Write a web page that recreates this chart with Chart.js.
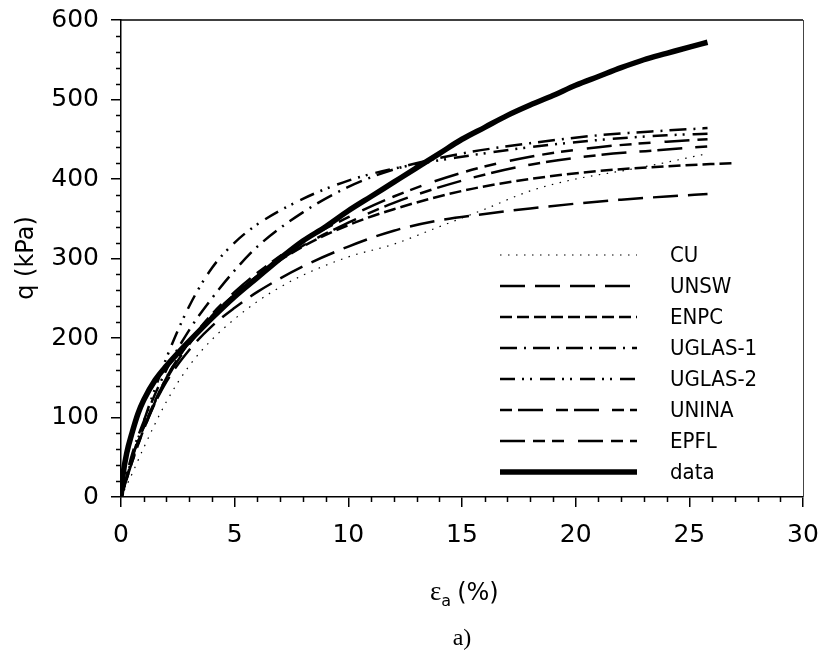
<!DOCTYPE html>
<html>
<head>
<meta charset="utf-8">
<script src="https://cdn.jsdelivr.net/npm/chart.js@4.4.1/dist/chart.umd.min.js"></script>
<style>
html, body { margin: 0; padding: 0; background: #fff; }
</style>
</head>
<body>
<canvas id="grafico" width="821" height="660"></canvas>
<script>
// valores (deformação axial em %, q em kPa)
const cuStrain = [0, 0.5, 1, 2, 3, 4, 5, 6, 7, 8, 10, 12, 14, 16, 18, 20, 22, 24, 25.8];
const cuQ      = [0, 30, 62, 120, 165, 198, 224, 246, 264, 279, 302, 318, 340, 362, 385, 400, 410, 421, 432];

const unswStrain = [0, 0.5, 1, 2, 3, 4, 5, 6, 8, 10, 12, 14, 16, 18, 20, 22, 24, 25.8];
const unswQ      = [0, 50, 88, 145, 185, 215, 238, 258, 290, 315, 335, 348, 356, 363, 369, 374, 378, 381];

const enpcStrain = [0, 0.5, 1, 2, 3, 4, 5, 6, 8, 10, 12, 15, 18, 21, 24, 26.9];
const enpcQ      = [0, 48, 88, 150, 195, 228, 255, 278, 315, 342, 362, 385, 400, 410, 416, 420];

const uglas1Strain = [0, 0.5, 1, 2, 3, 4, 5, 6, 8, 10, 12, 15, 18, 21, 24, 25.8];
const uglas1Q      = [0, 55, 95, 160, 210, 250, 285, 315, 358, 390, 412, 432, 445, 455, 461, 464];

const uglas2Strain = [0, 0.5, 1, 2, 3, 4, 5, 6, 8, 10, 12, 15, 18, 21, 24, 25.8];
const uglas2Q      = [0, 50, 95, 175, 240, 288, 320, 343, 375, 398, 413, 428, 440, 449, 455, 457];

const uninaStrain = [0, 0.5, 1, 2, 3, 4, 5, 6, 8, 10, 12, 15, 18, 21, 24, 25.8];
const uninaQ      = [0, 45, 85, 148, 192, 226, 254, 278, 316, 345, 370, 398, 418, 430, 437, 441];

const epflStrain = [0, 0.5, 1, 2, 3, 4, 5, 6, 8, 10, 12, 15, 18, 21, 24, 25.8];
const epflQ      = [0, 45, 85, 150, 195, 230, 258, 282, 322, 352, 378, 408, 428, 440, 447, 450];

const dataStrain = [0, 0.1, 0.25, 0.5, 0.75, 1, 1.5, 2, 2.5, 3, 4, 5, 6, 7, 8, 9, 10, 11, 12, 13, 14, 15, 16, 17, 18, 19, 20, 21, 22, 23, 24, 25, 25.8];
const dataQ      = [0, 30, 55, 82, 105, 122, 147, 165, 181, 196, 225, 252, 276, 300, 322, 340, 360, 378, 396, 414, 432, 450, 465, 480, 493, 505, 518, 529, 540, 550, 558, 566, 572];

const xTicks = [0, 5, 10, 15, 20, 25, 30];
const yTicks = [0, 100, 200, 300, 400, 500, 600];

const fonteEixo = "'DejaVu Sans', sans-serif";
const fonteLegenda = "'Liberation Sans Narrow', 'DejaVu Sans Condensed', sans-serif";
const fonteSerif = "'Liberation Serif', 'DejaVu Serif', serif";

function pontos(xs, ys) {
    return xs.map((x, i) => ({ x: x, y: ys[i] }));
}

function serie(label, xs, ys, dash, largura) {
    return {
        label: label,
        data: pontos(xs, ys),
        showLine: true,
        borderColor: '#000',
        borderWidth: largura,
        borderDash: dash,
        pointRadius: 0,
        fill: false,
        cubicInterpolationMode: 'monotone'
    };
}

const datasets = [
    serie('CU', cuStrain, cuQ, [1.5, 6.5], 1.2),
    serie('UNSW', unswStrain, unswQ, [25, 10], 2.5),
    serie('ENPC', enpcStrain, enpcQ, [12, 5], 2.5),
    serie('UGLAS-1', uglas1Strain, uglas1Q, [17, 7, 2, 7], 2.5),
    serie('UGLAS-2', uglas2Strain, uglas2Q, [15, 7, 2, 6, 2, 8], 2.5),
    serie('UNINA', uninaStrain, uninaQ, [12, 6, 25, 13], 2.5),
    serie('EPFL', epflStrain, epflQ, [25, 8, 12, 7, 12, 14], 2.5),
    serie('data', dataStrain, dataQ, [], 5.5)
];

// ticks menores, moldura, legenda e títulos
const extras = {
    id: 'extras',
    afterDraw(chart) {
        const ctx = chart.ctx;
        const xs = chart.scales.x;
        const ys = chart.scales.y;
        const a = chart.chartArea;
        ctx.save();
        ctx.strokeStyle = '#000';
        ctx.lineWidth = 1.5;
        ctx.beginPath();
        for (let v = 0; v <= 30; v++) {
            if (v % 5 === 0) continue;
            const px = Math.round(xs.getPixelForValue(v)) + 0.5;
            ctx.moveTo(px, a.bottom);
            ctx.lineTo(px, a.bottom + 5);
        }
        for (let v = 0; v <= 600; v += 20) {
            if (v % 100 === 0) continue;
            const py = Math.round(ys.getPixelForValue(v)) + 0.5;
            ctx.moveTo(a.left - 5, py);
            ctx.lineTo(a.left, py);
        }
        ctx.stroke();

        // moldura superior e direita
        ctx.beginPath();
        ctx.moveTo(a.left, a.top);
        ctx.lineTo(a.right, a.top);
        ctx.stroke();
        ctx.strokeStyle = '#444';
        ctx.lineWidth = 1;
        ctx.beginPath();
        ctx.moveTo(a.right + 0.5, a.top);
        ctx.lineTo(a.right + 0.5, a.bottom);
        ctx.stroke();

        // legenda
        chart.data.datasets.forEach((ds, i) => {
            const y = 255 + 31 * i;
            ctx.strokeStyle = '#000';
            ctx.lineWidth = ds.borderWidth;
            ctx.setLineDash(ds.borderDash);
            ctx.beginPath();
            ctx.moveTo(500, y);
            ctx.lineTo(637, y);
            ctx.stroke();
            ctx.setLineDash([]);
            ctx.fillStyle = '#000';
            ctx.font = '22px ' + fonteLegenda;
            ctx.textAlign = 'left';
            ctx.textBaseline = 'middle';
            ctx.fillText(ds.label, 670, y + 1);
        });

        // título do eixo y
        ctx.save();
        ctx.translate(27, 258);
        ctx.rotate(-Math.PI / 2);
        ctx.font = '24px ' + fonteEixo;
        ctx.textAlign = 'center';
        ctx.textBaseline = 'middle';
        ctx.fillText('q (kPa)', 0, 0);
        ctx.restore();

        // título do eixo x com subscrito
        ctx.textBaseline = 'alphabetic';
        ctx.textAlign = 'left';
        let x0 = 430;
        const base = 600;
        ctx.font = '27px ' + fonteSerif;
        ctx.fillText('\u03b5', x0, base);
        x0 += ctx.measureText('\u03b5').width;
        ctx.font = '16px ' + fonteEixo;
        ctx.fillText('a', x0, base + 6);
        x0 += ctx.measureText('a').width + 6;
        ctx.font = '24px ' + fonteEixo;
        ctx.fillText('(%)', x0, base);

        // legenda da figura
        ctx.font = '24px ' + fonteSerif;
        ctx.textAlign = 'center';
        ctx.fillText('a)', 462, 645);
        ctx.restore();
    }
};

const ctx = document.getElementById('grafico').getContext('2d');
const chart = new Chart(ctx, {
    type: 'scatter',
    data: { datasets: datasets },
    options: {
        responsive: false,
        animation: false,
        events: [],
        layout: { padding: { top: 20, right: 18, left: 0, bottom: 0 } },
        plugins: {
            legend: { display: false },
            tooltip: { enabled: false },
            title: { display: false }
        },
        scales: {
            x: {
                type: 'linear',
                min: 0,
                max: 30,
                afterBuildTicks: s => { s.ticks = xTicks.map(v => ({ value: v })); },
                afterFit: s => { s.height = 163; s.paddingLeft = 0; s.paddingRight = 0; },
                ticks: { color: '#000', font: { family: fonteEixo, size: 25 }, padding: 13, maxRotation: 0 },
                grid: { drawOnChartArea: false, tickLength: 10, color: '#000', lineWidth: 1.5 },
                border: { color: '#000', width: 1.5 }
            },
            y: {
                type: 'linear',
                min: 0,
                max: 600,
                afterBuildTicks: s => { s.ticks = yTicks.map(v => ({ value: v })); },
                afterFit: s => { s.width = 121; s.paddingTop = 0; s.paddingBottom = 0; },
                ticks: { color: '#000', font: { family: fonteEixo, size: 25 }, padding: 12 },
                grid: { drawOnChartArea: false, tickLength: 10, color: '#000', lineWidth: 1.5 },
                border: { color: '#000', width: 1.5 }
            }
        }
    },
    plugins: [extras]
});
</script>
</body>
</html>
